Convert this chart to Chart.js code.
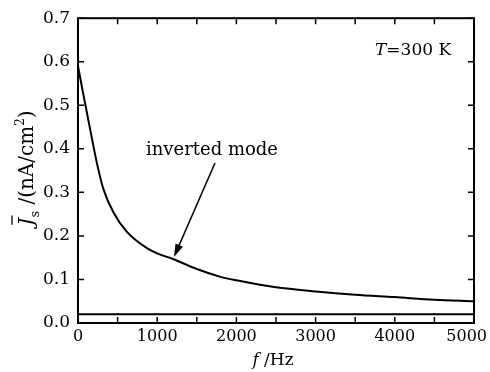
<!DOCTYPE html>
<html>
<head>
<meta charset="utf-8">
<script src="https://cdn.jsdelivr.net/npm/chart.js@4"></script>
<style>
html, body { margin: 0; padding: 0; background: #fff; }
canvas { display: block; }
</style>
</head>
<body>
<canvas id="chart" width="490" height="372"></canvas>
<script>
// values
const freq = [0, 60, 120, 180, 245, 320, 445, 615, 870, 1000, 1200, 1500, 1800, 2000, 2500, 3000, 3500, 4000, 4500, 5000];
const current = [0.59, 0.532, 0.476, 0.42, 0.362, 0.308, 0.255, 0.21, 0.172, 0.16, 0.147, 0.124, 0.106, 0.098, 0.082, 0.0725, 0.065, 0.0595, 0.0535, 0.05];
const baseFreq = [0, 5000];
const baseCurrent = [0.02, 0.02];
const xMinorTicks = [0, 500, 1000, 1500, 2000, 2500, 3000, 3500, 4000, 4500, 5000];

const FONT = "'DejaVu Serif', serif";

function toPoints(xs, ys) {
    return xs.map((v, i) => ({ x: v, y: ys[i] }));
}

// frame, inward ticks, labels and annotations
const decor = {
    id: "decor",
    afterDraw(chart) {
        const { ctx, chartArea: a, scales: { x, y } } = chart;
        ctx.save();
        ctx.strokeStyle = "#000";
        ctx.fillStyle = "#000";

        ctx.lineWidth = 2;
        ctx.strokeRect(a.left, a.top, a.right - a.left, a.bottom - a.top);

        ctx.lineWidth = 1.5;
        ctx.beginPath();
        xMinorTicks.forEach(v => {
            const px = x.getPixelForValue(v);
            ctx.moveTo(px, a.bottom); ctx.lineTo(px, a.bottom - 6);
            ctx.moveTo(px, a.top); ctx.lineTo(px, a.top + 6);
        });
        y.ticks.forEach(t => {
            const py = y.getPixelForValue(t.value);
            ctx.moveTo(a.left, py); ctx.lineTo(a.left + 6, py);
            ctx.moveTo(a.right, py); ctx.lineTo(a.right - 6, py);
        });
        ctx.stroke();

        // x tick labels (last one kept inside the canvas)
        ctx.font = "16px " + FONT;
        ctx.textAlign = "center";
        ctx.textBaseline = "top";
        x.ticks.forEach(t => {
            const s = String(t.value);
            const w = ctx.measureText(s).width;
            const px = Math.min(x.getPixelForValue(t.value), chart.width - w / 2 - 3);
            ctx.fillText(s, px, a.bottom + 6);
        });

        ctx.textAlign = "left";
        ctx.textBaseline = "alphabetic";

        // x title
        ctx.font = "italic 17px " + FONT;
        const fw = ctx.measureText("f").width;
        ctx.font = "17px " + FONT;
        const hw = ctx.measureText(" /Hz").width;
        let sx = (a.left + a.right) / 2 - (fw + hw) / 2 - 3;
        ctx.font = "italic 17px " + FONT;
        ctx.fillText("f", sx, 365);
        ctx.font = "17px " + FONT;
        ctx.fillText(" /Hz", sx + fw, 365);

        // T=300 K
        ctx.font = "italic 17px " + FONT;
        ctx.fillText("T", 375, 55);
        const tw = ctx.measureText("T").width;
        ctx.font = "17px " + FONT;
        ctx.fillText("=300 K", 375 + tw, 55);

        // inverted mode + arrow
        ctx.font = "18px " + FONT;
        ctx.fillText("inverted mode", 146, 155);
        const x0 = 215, y0 = 163, x1 = 174, y1 = 257;
        const ang = Math.atan2(y1 - y0, x1 - x0);
        ctx.lineWidth = 1.5;
        ctx.beginPath();
        ctx.moveTo(x0, y0);
        ctx.lineTo(x1 - 8 * Math.cos(ang), y1 - 8 * Math.sin(ang));
        ctx.stroke();
        ctx.beginPath();
        ctx.moveTo(x1, y1);
        ctx.lineTo(x1 - 13 * Math.cos(ang) + 4 * Math.sin(ang), y1 - 13 * Math.sin(ang) - 4 * Math.cos(ang));
        ctx.lineTo(x1 - 13 * Math.cos(ang) - 4 * Math.sin(ang), y1 - 13 * Math.sin(ang) + 4 * Math.cos(ang));
        ctx.closePath();
        ctx.fill();

        // y title: J-bar_s /(nA/cm^2)
        const parts = [
            { t: "J", f: "italic 20px ", dy: 0 },
            { t: "s", f: "13px ", dy: 6 },
            { t: " /(nA/cm", f: "20px ", dy: 0 },
            { t: "2", f: "12px ", dy: -9 },
            { t: ")", f: "20px ", dy: 0 }
        ];
        let total = 0;
        parts.forEach(p => { ctx.font = p.f + FONT; p.w = ctx.measureText(p.t).width; total += p.w; });
        ctx.translate(33, 168);
        ctx.rotate(-Math.PI / 2);
        let cx = -total / 2;
        parts.forEach((p, i) => {
            ctx.font = p.f + FONT;
            ctx.fillText(p.t, cx, p.dy);
            if (i === 0) {
                ctx.lineWidth = 1.3;
                ctx.beginPath();
                ctx.moveTo(cx + 1, -21);
                ctx.lineTo(cx + p.w + 2, -21);
                ctx.stroke();
            }
            cx += p.w;
        });
        ctx.restore();
    }
};

new Chart(document.getElementById("chart"), {
    type: "line",
    data: {
        datasets: [
            {
                data: toPoints(freq, current),
                borderColor: "#000",
                borderWidth: 2,
                pointRadius: 0,
                cubicInterpolationMode: "monotone",
                fill: false
            },
            {
                data: toPoints(baseFreq, baseCurrent),
                borderColor: "#000",
                borderWidth: 2,
                pointRadius: 0,
                fill: false
            }
        ]
    },
    options: {
        responsive: false,
        animation: false,
        devicePixelRatio: 1,
        layout: { padding: { top: 13, right: 16, left: 0, bottom: 0 } },
        plugins: { legend: { display: false }, tooltip: { enabled: false } },
        scales: {
            x: {
                type: "linear",
                min: 0,
                max: 5000,
                ticks: { display: false, stepSize: 1000 },
                grid: { display: false, drawTicks: false },
                border: { display: false },
                afterFit(scale) { scale.height = 49; }
            },
            y: {
                min: 0,
                max: 0.7,
                ticks: {
                    stepSize: 0.1,
                    color: "#000",
                    padding: 8,
                    font: { family: FONT, size: 17 },
                    callback: v => v.toFixed(1)
                },
                grid: { display: false, drawTicks: false },
                border: { display: false },
                afterFit(scale) { scale.width = 78; }
            }
        }
    },
    plugins: [decor]
});
</script>
</body>
</html>
